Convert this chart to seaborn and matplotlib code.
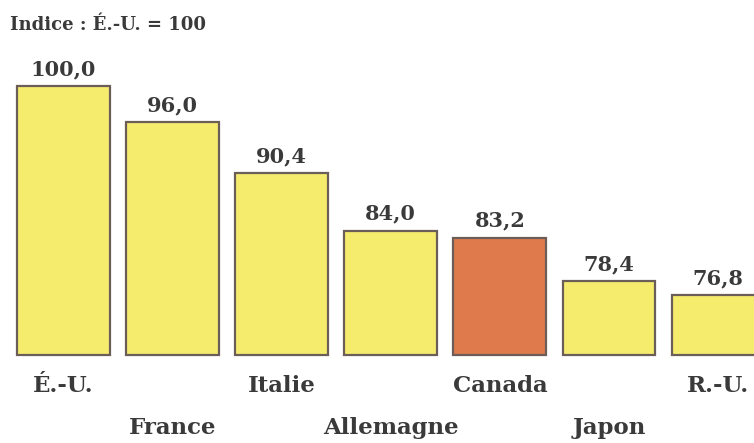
import matplotlib
matplotlib.use("Agg")
import matplotlib.pyplot as plt
import seaborn as sns

countries = ["É.-U.", "France", "Italie", "Allemagne", "Canada", "Japon", "R.-U."]
values = [100.0, 96.0, 90.4, 84.0, 83.2, 78.4, 76.8]
value_labels = ["100,0", "96,0", "90,4", "84,0", "83,2", "78,4", "76,8"]
colors = ["#F5EC6E", "#F5EC6E", "#F5EC6E", "#F5EC6E", "#DF7A4C", "#F5EC6E", "#F5EC6E"]
title = "Indice : É.-U. = 100"

sns.set_style("white")
plt.rcParams["font.family"] = ["DejaVu Serif", "DejaVu Sans"]

base = 70.2
heights = [v - base for v in values]

fig = plt.figure(figsize=(7.54, 4.43), dpi=100)
ax = fig.add_axes([0, 0, 1, 1])
sns.barplot(x=countries, y=heights, hue=countries, palette=colors, legend=False,
            saturation=1, bottom=base, width=0.85, edgecolor="#6b5d58",
            linewidth=1.6, ax=ax)

ax.set_xlim(-0.582, 6.33)
ax.set_ylim(60.4, 109.6)
ax.axis("off")

txt = "#3a3a3a"
for i, (v, lab) in enumerate(zip(values, value_labels)):
    ax.annotate(lab, (i, v), xytext=(0, 5), textcoords="offset points",
                ha="center", va="bottom", fontsize=15, fontweight="semibold",
                color=txt)

for i, c in enumerate(countries):
    y = 386 if i % 2 == 0 else 428
    fig.text((63.5 + 109.1 * i) / 754, 1 - y / 443, c, ha="center", va="center",
             fontsize=16.5, fontweight="bold", color=txt)

fig.text(10 / 754, 1 - 25 / 443, title, ha="left", va="center",
         fontsize=13, fontweight="bold", color=txt)

fig.savefig("out.png", dpi=100)
